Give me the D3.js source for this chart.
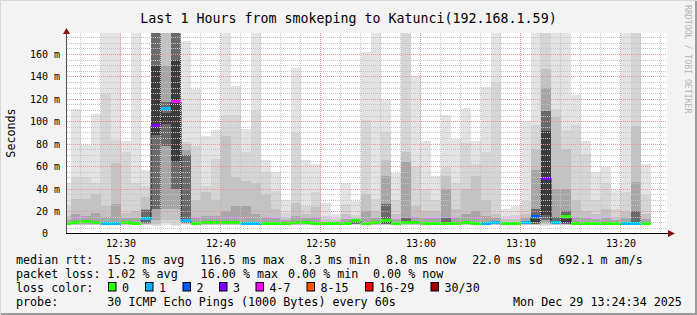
<!DOCTYPE html>
<html>
<head>
<meta charset="utf-8">
<script src="https://cdn.jsdelivr.net/npm/d3@7"></script>
<style>
body{margin:0;background:#f3f3f3}
svg{display:block;font-family:"DejaVu Sans Mono",monospace}
</style>
</head>
<body>
<svg width="697" height="315"></svg>
<script>
// one sample per minute, first (partial) column is 12:24
const firstSample = "2025-12-29T12:24:00";

// smoke layers, outer (lightest) to inner (darkest): [low, high] in ms per sample
const layer1 = [[7.5,45],[7.5,111],[7.5,79],[7.5,107],[7.5,190],[7.5,190],[7.5,83],[7.5,190],[7.5,57],[7,190],
  [8,190],[7,190],[8,172],[7.5,129],[7.5,87],[7.5,93],[7.5,190],[7.5,132],[7.5,94],[7.5,190],
  [7.5,66],[7.5,55],[7.5,30],[7.5,148],[7.5,66],[7.5,62],[7.5,28],[7.5,18],[7.5,45],[7.5,29],
  [7.5,162],[7.5,190],[7.5,119],[7.5,54],[7.5,190],[7.5,141],[7.5,83],[7.5,52],[7.5,106],[7.5,85],
  [7.5,112],[7.5,83],[7.5,131],[7.5,190],[7.5,22],[7.5,25],[7.5,101],[7.5,190],[7,190],[7.5,190],
  [7.5,190],[7.5,124],[7.5,83],[7.5,55],[7.5,60],[7.5,39],[7.5,190],[7.5,190],[7.5,62]];
const layer2 = [[8,25],[8,51],[8,51],[8,45],[8,126],[8,84],[8,73],[8,45],[8,43],[8,190],
  [10,190],[7.5,190],[8.5,82],[8,78],[8,43],[8,67],[8,106],[8,106],[8,73],[8,110],
  [8,55],[8,38],[8,19],[8,90],[8,25],[8,37],[8,16],[8,14],[8,27],[8,17],
  [8,102],[8,31],[8,91],[8,30],[8,190],[8,60],[8,40],[8,30],[8,60],[8,45],
  [8,81],[8,62],[8,73],[8,135],[8,16],[8,17],[8,29],[8,97],[8,190],[8,111],
  [8,93],[8,97],[8,71],[8,30],[8,45],[8,22],[8,37],[8,190],[8,35]];
const layer3 = [[8.3,16],[8.3,31],[8.3,31],[8.3,36],[8.3,25],[8.3,63],[8.3,19],[8.3,20],[8.5,33],[9,190],
  [12,190],[12,190],[9,80],[8.3,30],[8.3,37],[8.3,30],[8.3,87],[8.3,51],[8.3,47],[8.3,45],
  [8.3,36],[8.3,22],[8.3,14],[8.3,28],[8.3,18],[8.3,24],[8.3,13],[8.3,12],[8.3,18],[8.5,14],
  [8.3,36],[8.3,20],[8.3,66],[8.3,18],[8.3,73],[8.3,25],[8.3,20],[8.3,20],[8.3,52],[8.3,22],
  [8.3,40],[8.3,52],[8.3,30],[8.3,18],[8.3,13],[8.3,13],[8.3,18],[8.3,76],[9,147],[8.3,104],
  [8.3,76],[8.3,30],[8.3,20],[8.3,18],[8.3,22],[8.3,15],[8.3,20],[8.3,96],[8.3,18]];
const layer4 = [[8.6,12],[8.6,18],[8.6,16],[8.6,19],[8.6,15],[8.6,27],[8.6,14],[8.6,14],[9,22],[12,190],
  [22,150],[22,190],[9.5,75],[8.6,15],[8.6,16],[8.6,16],[8.6,20],[8.6,25],[8.6,25],[8.6,18],
  [8.6,15],[8.6,14],[8.6,12],[8.6,16],[8.6,14],[8.6,15],[8.6,11],[8.6,11],[8.6,13],[9,13],
  [8.6,20],[8.6,14],[8.6,52],[8.6,13],[8.6,64],[8.6,15],[8.6,14],[8.6,14],[8.6,40],[8.6,15],
  [8.6,18],[8.6,20],[8.6,16],[8.6,14],[8.6,11],[8.6,11],[8.6,14],[8.6,57],[10,130],[8.6,40],
  [8.6,40],[8.6,15],[8.6,14],[8.6,13],[8.6,14],[8.6,12],[8.6,14],[8.6,46],[8.6,13]];
const layer5 = [null,null,null,null,null,null,null,null,[10,21],[22,190],
  [78,118],[40,190],[10,70],null,null,null,null,null,null,null,
  null,null,null,null,null,null,null,null,null,[8.5,12],
  null,null,[9,27],null,[9,14],null,null,null,[9,14],null,
  null,null,null,null,null,null,null,[9,22],[12,110],[9,15],
  [9,20],null,null,null,null,null,null,[9,20],null];
const layer6 = [null,null,null,null,null,null,null,null,null,[88,150],
  [98,108],[64,155],null,null,null,null,null,null,null,null,
  null,null,null,null,null,null,null,null,null,null,
  null,null,[9.5,12],null,null,null,null,null,null,null,
  null,null,null,null,null,null,null,[11,13],[17,92],null,
  [10,13],null,null,null,null,null,null,null,null];

const medianRtt = [9.4,10.0,10.9,10.3,9.4,9.4,10.0,9.7,13.5,96.5,
  111.5,118,11.7,9.6,10.0,10.2,10.2,10.2,9.7,9.7,
  9.1,9.7,9.7,10.3,10.3,9.7,9.2,9.2,9.7,11.8,
  9.7,10.3,11.8,9.7,10.3,10.3,9.2,9.5,9.2,9.5,
  10.3,9.7,9.7,10.3,9.7,9.7,10.3,15.3,49.8,10.0,
  15.3,9.1,9.7,9.1,9.1,9.1,9.1,9.1,9.7];
// lost pings (of 30) per sample
const lostPings = [0,0,0,0,1,1,0,0,1,3,
  1,5,1,0,0,0,0,0,1,1,
  0,0,0,0,0,0,0,0,0,0,
  0,0,0,0,0,0,0,0,0,0,
  0,0,1,1,0,0,1,2,3,1,
  0,0,0,0,0,0,1,1,0];

const layerShades = ["#e3e3e3","#d5d5d5","#c3c3c3","#a6a6a6","#6a6a6a","#3c3c3c"];
const lossLabels = ["0","1","2","3","4-7","8-15","16-29","30/30"];
const lossColors = ["#26ff00","#00b8ff","#0059ff","#7e00ff","#ff00ff","#ff5500","#ff0000","#a10000"];
const yTicks = [0,20,40,60,80,100,120,140,160];

const legendRows = [
  ["median rtt:", [["15.2 ms avg",107],["116.5 ms max",200],["8.3 ms min",300],["8.8 ms now",386],["22.0 ms sd",472.3],["692.1 m am/s",558.3]]],
  ["packet loss:", [["1.02 % avg",107.3],["16.00 % max",200.7],["0.00 % min",288],["0.00 % now",373]]],
  ["loss color:", []],
  ["probe:", [["30 ICMP Echo Pings (1000 Bytes) every 60s",107.3],["Mon Dec 29 13:24:34 2025",513]]]
];

function lossBucket(n){ return n<=3 ? n : n<=7 ? 4 : n<=15 ? 5 : n<=29 ? 6 : 7; }

var svg = d3.select("svg");
const pLeft = 67, pRight = 667, pTop = 33, pBottom = 233;

let t0 = new Date(firstSample);
let times = medianRtt.map((d,i) => d3.timeMinute.offset(t0, i));
let xScale = d3.scaleTime()
    .domain([new Date("2025-12-29T12:30:00"), new Date("2025-12-29T13:20:00")])
    .range([120.5, 620.5]);
let yScale = d3.scaleLinear().domain([0,160]).range([233.9,54.5]);

svg.append("rect").attr("width",697).attr("height",315).attr("fill","#f3f3f3");
svg.append("rect").attr("x",pLeft).attr("y",pTop).attr("width",pRight-pLeft).attr("height",pBottom-pTop).attr("fill","#fff");

svg.append("clipPath").attr("id","plot")
  .append("rect").attr("x",pLeft).attr("y",pTop).attr("width",pRight-pLeft).attr("height",pBottom-pTop);
var g = svg.append("g").attr("clip-path","url(#plot)");

let colX = t => Math.round(xScale(t)+0.25);

// smoke
[layer1,layer2,layer3,layer4,layer5,layer6].forEach((layer,j) => {
  g.append("g").selectAll("rect")
    .data(layer.map((d,i) => ({d:d, t:times[i]})).filter(e => e.d))
    .enter().append("rect")
    .attr("x", e => colX(e.t))
    .attr("width", e => colX(d3.timeMinute.offset(e.t,1)) - colX(e.t))
    .attr("y", e => Math.round(yScale(e.d[1])))
    .attr("height", e => Math.round(yScale(e.d[0])) - Math.round(yScale(e.d[1])))
    .attr("fill", layerShades[j]);
});

// median step line
let pts = medianRtt.map((m,i) => [colX(times[i]), Math.round(yScale(m))]);
pts.push([colX(d3.timeMinute.offset(times[times.length-1],1)), Math.round(yScale(medianRtt[medianRtt.length-1]))]);
g.append("path")
  .attr("d", d3.line().curve(d3.curveStepAfter)(pts))
  .attr("fill","none").attr("stroke","#202020").attr("stroke-width",1);

// loss coloured median bands
g.append("g").selectAll("rect")
  .data(medianRtt)
  .enter().append("rect")
  .attr("x", (d,i) => colX(times[i]))
  .attr("width", (d,i) => colX(d3.timeMinute.offset(times[i],1)) - colX(times[i]))
  .attr("y", d => Math.round(yScale(d) - 1.5))
  .attr("height", 3)
  .attr("fill", (d,i) => lossColors[lossBucket(lostPings[i])]);

// grid
var grid = svg.append("g").attr("fill","none").attr("stroke-width",1).attr("stroke-dasharray","1,1");
d3.range(5,180,5).filter(v => v%20 && yScale(v) > pTop).forEach(v => {
  let yy = Math.floor(yScale(v))+0.5;
  grid.append("line").attr("x1",pLeft).attr("x2",pRight).attr("y1",yy).attr("y2",yy).attr("stroke","#c4c4c4");
});
let minorTimes = d3.timeMinute.every(2).range(new Date("2025-12-29T12:25:00"), new Date("2025-12-29T13:25:00"));
minorTimes.filter(t => t.getMinutes()%10).forEach(t => {
  let xx = Math.floor(xScale(t))+0.5;
  if (xx > pLeft && xx < pRight) grid.append("line").attr("x1",xx).attr("x2",xx).attr("y1",pTop).attr("y2",pBottom).attr("stroke","#c4c4c4");
});
yTicks.filter(v => v > 0).forEach(v => {
  let yy = Math.floor(yScale(v))+0.5;
  grid.append("line").attr("x1",pLeft).attr("x2",pRight).attr("y1",yy).attr("y2",yy).attr("stroke","#e89696");
});
let majorTimes = d3.timeMinute.every(10).range(new Date("2025-12-29T12:25:00"), new Date("2025-12-29T13:25:00"));
majorTimes.forEach(t => {
  let xx = Math.floor(xScale(t))+0.5;
  grid.append("line").attr("x1",xx).attr("x2",xx).attr("y1",pTop).attr("y2",pBottom).attr("stroke","#e89696");
});

// axes
svg.append("line").attr("x1",66.5).attr("x2",66.5).attr("y1",233).attr("y2",31).attr("stroke","#505050");
svg.append("path").attr("d","M63,34L70,34L66.5,28Z").attr("fill","#8b1010");
svg.append("line").attr("x1",66).attr("x2",670).attr("y1",233.5).attr("y2",233.5).attr("stroke","#000");
svg.append("path").attr("d","M668,230L668,237L675,233.5Z").attr("fill","#8b1010");

var yAxis = svg.append("g").attr("transform","translate(60,0)")
  .call(d3.axisLeft(yScale).tickValues(yTicks).tickSize(0).tickPadding(0)
    .tickFormat(d => d === 0 ? "0\u00a0\u00a0" : d + " m"));
yAxis.select(".domain").remove();
yAxis.selectAll(".tick").attr("transform", null);
yAxis.selectAll("text").attr("font-family","DejaVu Sans Mono").attr("font-size","10px").attr("fill","#000")
  .attr("dy", null).attr("y", d => Math.floor(yScale(d)) + 4);

var xAxis = svg.append("g").attr("transform","translate(0,237)")
  .call(d3.axisBottom(xScale).tickValues(majorTimes).tickSize(0).tickPadding(0)
    .tickFormat(d3.timeFormat("%H:%M")));
xAxis.select(".domain").remove();
xAxis.selectAll("text").attr("font-family","DejaVu Sans Mono").attr("font-size","10px").attr("fill","#000")
  .attr("dy", null).attr("y", 9.5);

// titles
svg.append("text").attr("x",348.5).attr("y",22.5).attr("text-anchor","middle")
  .attr("font-size","13.3px").text("Last 1 Hours from smokeping to Katunci(192.168.1.59)");
svg.append("text").attr("transform","translate(15,133) rotate(-90)").attr("text-anchor","middle")
  .attr("font-size","11.7px").text("Seconds");
svg.append("text").attr("transform","translate(684.5,5) rotate(90)")
  .attr("font-size","8.2px").attr("fill","#b4b4b4").text("RRDTOOL / TOBI OETIKER");

// legend
legendRows.forEach((row,r) => {
  let by = 264 + r*14;
  svg.append("text").attr("x",16).attr("y",by).attr("font-size","11.7px").text(row[0]);
  row[1].forEach(p => svg.append("text").attr("x",p[1]).attr("y",by).attr("font-size","11.7px").text(p[0]));
});
const boxX = [108.5,145.5,183,219.5,256,307,365.5,431];
lossLabels.forEach((lab,i) => {
  svg.append("rect").attr("x",boxX[i]).attr("y",282.5).attr("width",7.5).attr("height",8.5)
    .attr("fill",lossColors[i]).attr("stroke","#000").attr("stroke-width",1);
  svg.append("text").attr("x",boxX[i]+13.5).attr("y",292).attr("font-size","11.7px").text(lab);
});

// frame
svg.append("path").attr("d","M0.5,314.5L0.5,0.5L696.5,0.5").attr("fill","none").attr("stroke","#d8d8d8");
svg.append("path").attr("d","M1,314L696,314L696,1").attr("fill","none").attr("stroke","#9c9c9c").attr("stroke-width",2);
</script>
</body>
</html>
